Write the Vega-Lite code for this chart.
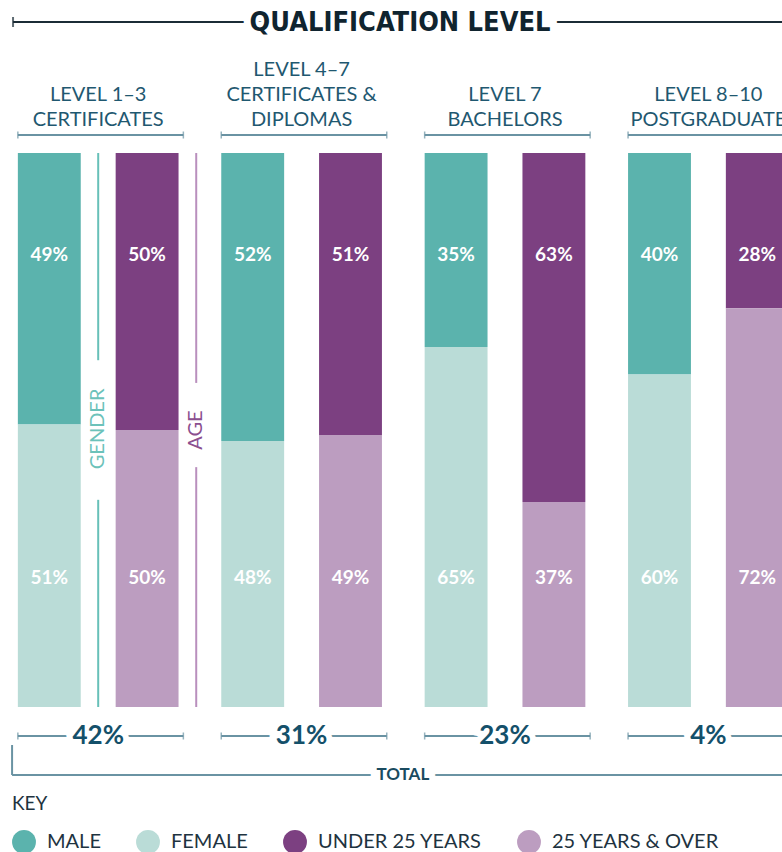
{
  "$schema": "https://vega.github.io/schema/vega-lite/v6.json",
  "width": 782,
  "height": 852,
  "padding": 0,
  "autosize": {"type": "none"},
  "background": "white",
  "config": {"view": {"stroke": null}, "font": "Lato"},
  "datasets": {
    "bars": [
      {"group": "L13", "dim": "gender", "cat": "MALE", "part": "top", "pct": 49},
      {"group": "L13", "dim": "gender", "cat": "FEMALE", "part": "bottom", "pct": 51},
      {"group": "L13", "dim": "age", "cat": "UNDER 25 YEARS", "part": "top", "pct": 50},
      {"group": "L13", "dim": "age", "cat": "25 YEARS & OVER", "part": "bottom", "pct": 50},
      {"group": "L47", "dim": "gender", "cat": "MALE", "part": "top", "pct": 52},
      {"group": "L47", "dim": "gender", "cat": "FEMALE", "part": "bottom", "pct": 48},
      {"group": "L47", "dim": "age", "cat": "UNDER 25 YEARS", "part": "top", "pct": 51},
      {"group": "L47", "dim": "age", "cat": "25 YEARS & OVER", "part": "bottom", "pct": 49},
      {"group": "L7", "dim": "gender", "cat": "MALE", "part": "top", "pct": 35},
      {"group": "L7", "dim": "gender", "cat": "FEMALE", "part": "bottom", "pct": 65},
      {"group": "L7", "dim": "age", "cat": "UNDER 25 YEARS", "part": "top", "pct": 63},
      {"group": "L7", "dim": "age", "cat": "25 YEARS & OVER", "part": "bottom", "pct": 37},
      {"group": "L810", "dim": "gender", "cat": "MALE", "part": "top", "pct": 40},
      {"group": "L810", "dim": "gender", "cat": "FEMALE", "part": "bottom", "pct": 60},
      {"group": "L810", "dim": "age", "cat": "UNDER 25 YEARS", "part": "top", "pct": 28},
      {"group": "L810", "dim": "age", "cat": "25 YEARS & OVER", "part": "bottom", "pct": 72}
    ],
    "groups": [
      {"group": "L13", "label": "LEVEL 1–3\nCERTIFICATES", "total": "42%"},
      {"group": "L47", "label": "LEVEL 4–7\nCERTIFICATES &\nDIPLOMAS", "total": "31%"},
      {"group": "L7", "label": "LEVEL 7\nBACHELORS", "total": "23%"},
      {"group": "L810", "label": "LEVEL 8–10\nPOSTGRADUATE", "total": "4%"}
    ],
    "one": [{}]
  },
  "layer": [
    {
      "data": {"name": "bars"},
      "transform": [
        {"stack": "pct", "groupby": ["group", "dim"], "sort": [{"field": "part", "order": "ascending"}], "as": ["y0", "y1"]}
      ],
      "mark": {"type": "bar"},
      "encoding": {
        "x": {"field": "group", "type": "nominal", "axis": null,
              "scale": {"domain": ["L13", "L47", "L7", "L810"], "range": [-3.5, 810.1], "paddingInner": 0.21, "paddingOuter": 0.105}},
        "xOffset": {"field": "dim", "type": "nominal",
              "scale": {"domain": ["gender", "age"], "paddingInner": 0.357, "paddingOuter": 0}},
        "y": {"field": "y0", "type": "quantitative", "axis": null, "scale": {"domain": [-26.17, 127.62], "nice": false, "zero": false}},
        "y2": {"field": "y1"},
        "color": {"field": "cat", "type": "nominal",
          "scale": {"domain": ["MALE", "FEMALE", "UNDER 25 YEARS", "25 YEARS & OVER"], "range": ["#5bb3ad", "#badcd7", "#7c4081", "#bc9dc0"]},
          "legend": {
            "title": "KEY", "orient": "none", "legendX": 12, "legendY": 795, "direction": "horizontal",
            "titleFontSize": 19, "titleFontWeight": "normal", "titleColor": "#1e3340", "titleFont": "Lato", "titlePadding": 16,
            "labelFontSize": 20, "labelColor": "#1e3340", "labelFont": "Lato", "labelOffset": 11, "labelLimit": 400,
            "symbolType": "circle", "symbolSize": 570, "symbolStrokeWidth": 0, "symbolOpacity": 1,
            "columnPadding": 35, "padding": 0
          }
        }
      }
    },
    {
      "data": {"name": "bars"},
      "transform": [{"filter": "datum.part == 'top'"}, {"calculate": "datum.pct + '%'", "as": "lbl"}],
      "mark": {"type": "text", "color": "white", "fontSize": 19, "fontWeight": "bold", "baseline": "middle"},
      "encoding": {
        "x": {"field": "group", "type": "nominal"},
        "xOffset": {"field": "dim", "type": "nominal"},
        "y": {"datum": 81.6},
        "text": {"field": "lbl"}
      }
    },
    {
      "data": {"name": "bars"},
      "transform": [{"filter": "datum.part == 'bottom'"}, {"calculate": "datum.pct + '%'", "as": "lbl"}],
      "mark": {"type": "text", "color": "white", "fontSize": 19, "fontWeight": "bold", "baseline": "middle"},
      "encoding": {
        "x": {"field": "group", "type": "nominal"},
        "xOffset": {"field": "dim", "type": "nominal"},
        "y": {"datum": 23.3},
        "text": {"field": "lbl"}
      }
    },
    {
      "data": {"name": "one"},
      "mark": {"type": "rule", "color": "#1b2c36", "strokeWidth": 2},
      "encoding": {
        "x": {"datum": "L13", "type": "nominal", "bandPosition": -0.03},
        "x2": {"datum": "L810", "bandPosition": 1.6},
        "y": {"datum": 123.65}
      }
    },
    {
      "data": {"name": "one"},
      "mark": {"type": "tick", "orient": "vertical", "color": "#1b2c36", "size": 10, "thickness": 2},
      "encoding": {
        "x": {"datum": "L13", "type": "nominal", "bandPosition": -0.03},
        "y": {"datum": 123.65}
      }
    },
    {
      "data": {"name": "one"},
      "mark": {"type": "text", "text": "QUALIFICATION LEVEL", "font": "DejaVu Sans Condensed", "fontWeight": "bold", "fontSize": 27, "baseline": "middle", "color": "white", "stroke": "white", "strokeWidth": 14},
      "encoding": {"x": {"datum": "L7", "type": "nominal", "bandPosition": -0.153}, "y": {"datum": 123.5}}
    },
    {
      "data": {"name": "one"},
      "mark": {"type": "text", "text": "QUALIFICATION LEVEL", "font": "DejaVu Sans Condensed", "fontWeight": "bold", "fontSize": 27, "baseline": "middle", "color": "#10242f"},
      "encoding": {"x": {"datum": "L7", "type": "nominal", "bandPosition": -0.153}, "y": {"datum": 123.5}}
    },
    {
      "data": {"name": "groups"},
      "transform": [{"filter": "length(split(datum.label, '\\n')) == 2"}],
      "mark": {"type": "text", "fontSize": 20, "color": "#1f5870", "baseline": "alphabetic", "lineBreak": "\n", "lineHeight": 25},
      "encoding": {"x": {"field": "group", "type": "nominal"}, "y": {"datum": 109.4}, "text": {"field": "label"}}
    },
    {
      "data": {"name": "groups"},
      "transform": [{"filter": "length(split(datum.label, '\\n')) == 3"}],
      "mark": {"type": "text", "fontSize": 20, "color": "#1f5870", "baseline": "alphabetic", "lineBreak": "\n", "lineHeight": 25},
      "encoding": {"x": {"field": "group", "type": "nominal"}, "y": {"datum": 113.9}, "text": {"field": "label"}}
    },
    {
      "data": {"name": "groups"},
      "mark": {"type": "rule", "color": "#6a93a3", "strokeWidth": 2},
      "encoding": {
        "x": {"field": "group", "type": "nominal", "bandPosition": 0},
        "x2": {"field": "group", "bandPosition": 1.03},
        "y": {"datum": 103.25}
      }
    },
    {
      "data": {"name": "groups"},
      "mark": {"type": "tick", "orient": "vertical", "color": "#6a93a3", "size": 7, "thickness": 1.5},
      "encoding": {"x": {"field": "group", "type": "nominal", "bandPosition": 0}, "y": {"datum": 103.25}}
    },
    {
      "data": {"name": "groups"},
      "mark": {"type": "tick", "orient": "vertical", "color": "#6a93a3", "size": 7, "thickness": 1.5},
      "encoding": {"x": {"field": "group", "type": "nominal", "bandPosition": 1.03}, "y": {"datum": 103.25}}
    },
    {
      "data": {"name": "groups"},
      "mark": {"type": "rule", "color": "#6a93a3", "strokeWidth": 2},
      "encoding": {
        "x": {"field": "group", "type": "nominal", "bandPosition": 0},
        "x2": {"field": "group", "bandPosition": 1.03},
        "y": {"datum": -5.23}
      }
    },
    {
      "data": {"name": "groups"},
      "mark": {"type": "tick", "orient": "vertical", "color": "#6a93a3", "size": 7, "thickness": 1.5},
      "encoding": {"x": {"field": "group", "type": "nominal", "bandPosition": 0}, "y": {"datum": -5.23}}
    },
    {
      "data": {"name": "groups"},
      "mark": {"type": "tick", "orient": "vertical", "color": "#6a93a3", "size": 7, "thickness": 1.5},
      "encoding": {"x": {"field": "group", "type": "nominal", "bandPosition": 1.03}, "y": {"datum": -5.23}}
    },
    {
      "data": {"name": "groups"},
      "mark": {"type": "text", "fontSize": 26, "fontWeight": "bold", "baseline": "middle", "color": "white", "stroke": "white", "strokeWidth": 12},
      "encoding": {"x": {"field": "group", "type": "nominal"}, "y": {"datum": -5.23}, "text": {"field": "total"}}
    },
    {
      "data": {"name": "groups"},
      "mark": {"type": "text", "fontSize": 26, "fontWeight": "bold", "baseline": "middle", "color": "#14506a"},
      "encoding": {"x": {"field": "group", "type": "nominal"}, "y": {"datum": -5.23}, "text": {"field": "total"}}
    },
    {
      "data": {"name": "one"},
      "mark": {"type": "rule", "color": "#6a93a3", "strokeWidth": 2},
      "encoding": {
        "x": {"datum": "L13", "type": "nominal", "bandPosition": -0.036},
        "y": {"datum": -6.86},
        "y2": {"datum": -12.27}
      }
    },
    {
      "data": {"name": "one"},
      "mark": {"type": "rule", "color": "#6a93a3", "strokeWidth": 2},
      "encoding": {
        "x": {"datum": "L13", "type": "nominal", "bandPosition": -0.036},
        "x2": {"datum": "L810", "bandPosition": 1.6},
        "y": {"datum": -12.27}
      }
    },
    {
      "data": {"name": "one"},
      "mark": {"type": "text", "text": "TOTAL", "fontSize": 17, "fontWeight": "bold", "baseline": "middle", "color": "white", "stroke": "white", "strokeWidth": 12},
      "encoding": {"x": {"datum": "L47", "type": "nominal", "bandPosition": 1.13}, "y": {"datum": -12.27}}
    },
    {
      "data": {"name": "one"},
      "mark": {"type": "text", "text": "TOTAL", "fontSize": 17, "fontWeight": "bold", "baseline": "middle", "color": "#1a4b60"},
      "encoding": {"x": {"datum": "L47", "type": "nominal", "bandPosition": 1.13}, "y": {"datum": -12.27}}
    },
    {
      "data": {"name": "one"},
      "mark": {"type": "rule", "color": "#67c0b8", "strokeWidth": 2},
      "encoding": {"x": {"datum": "L13", "type": "nominal", "bandPosition": 0.5}, "y": {"datum": 100}, "y2": {"datum": 62.6}}
    },
    {
      "data": {"name": "one"},
      "mark": {"type": "rule", "color": "#67c0b8", "strokeWidth": 2},
      "encoding": {"x": {"datum": "L13", "type": "nominal", "bandPosition": 0.5}, "y": {"datum": 37.4}, "y2": {"datum": 0}}
    },
    {
      "data": {"name": "one"},
      "mark": {"type": "text", "text": "GENDER", "fontSize": 20, "angle": 270, "baseline": "middle", "align": "center", "color": "#6cc2ba"},
      "encoding": {"x": {"datum": "L13", "type": "nominal", "bandPosition": 0.5}, "y": {"datum": 50.2}}
    },
    {
      "data": {"name": "one"},
      "mark": {"type": "rule", "color": "#b98fbd", "strokeWidth": 2},
      "encoding": {"x": {"datum": "L13", "type": "nominal", "bandPosition": 1.11}, "y": {"datum": 100}, "y2": {"datum": 58.5}}
    },
    {
      "data": {"name": "one"},
      "mark": {"type": "rule", "color": "#b98fbd", "strokeWidth": 2},
      "encoding": {"x": {"datum": "L13", "type": "nominal", "bandPosition": 1.11}, "y": {"datum": 43.3}, "y2": {"datum": 0}}
    },
    {
      "data": {"name": "one"},
      "mark": {"type": "text", "text": "AGE", "fontSize": 20, "angle": 270, "baseline": "middle", "align": "center", "color": "#8b4f8f"},
      "encoding": {"x": {"datum": "L13", "type": "nominal", "bandPosition": 1.11}, "y": {"datum": 50}}
    }
  ]
}
